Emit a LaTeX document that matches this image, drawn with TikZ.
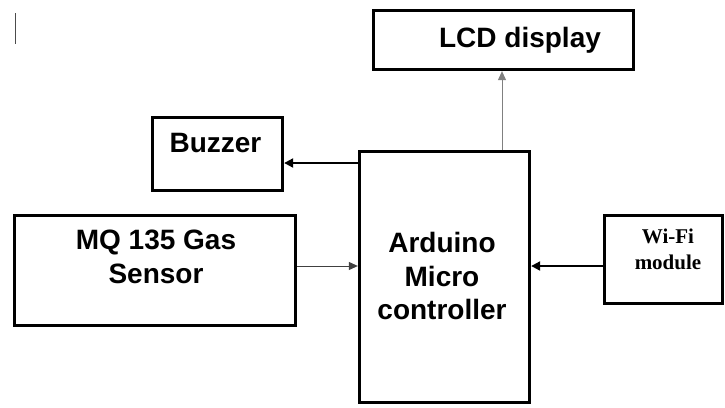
\documentclass[tikz,border=0pt]{standalone}
\usepackage{fontspec}
\setmainfont{Liberation Sans}
\newfontfamily\wifiserif{Liberation Serif}
\usetikzlibrary{positioning,arrows.meta}

\begin{document}
\begin{tikzpicture}[
  x=1pt, y=-1pt,
  %% block outline, text set apart
  blk/.style={draw, line width=3.3pt, minimum width=#1},
  blk/.default=100pt,
  %% block label, bold sans
  lbl/.style={font=\fontsize{28}{33.5}\selectfont\bfseries,
    align=center, inner sep=0pt},
  %% thick black connector
  thk/.style={-{Triangle[length=9pt,width=9pt]}, line width=2pt},
  %% thin grey connector
  thn/.style={-{Triangle[length=9pt,width=8pt]}, line width=1pt},
]
\useasboundingbox (0,0) rectangle (725,407);

%% stray mark top left
\draw[black!70, line width=1pt] (15,13) -- (15,44);

%%── blocks ────────────────────────────────────────────────
\node[blk=260pt, minimum height=59pt] (lcd) at (503.5,40) {};
\node[lbl, anchor=base] (lcdt) at (520,47) {LCD display};

\node[blk=130pt, minimum height=73pt] (buzz) at (217.5,154) {};
\node[lbl, anchor=base] (buzzt) at (215.5,152) {Buzzer};

\node[blk=170pt, minimum height=251pt] (mcu) at (444.5,277) {};
\node[lbl] (mcut) at (442,276) {Arduino\\Micro\\controller};

\node[blk=281pt, minimum height=110pt] (mq) at (155,270.5) {};
\node[lbl] (mqt) at (156,257) {MQ 135 Gas\\Sensor};

\node[blk=118pt, minimum height=88pt] (wifi) at (663.5,259.5) {};
\node[lbl, font=\fontsize{21}{26}\selectfont\wifiserif\bfseries]
  (wifit) at (668,249) {Wi-Fi\\module};

%%── connectors ────────────────────────────────────────────
\coordinate (buzzin) at ([yshift=-9pt]buzz.east);
\coordinate (mqout) at ([yshift=4.5pt]mq.east);
\coordinate (wifiout) at ([yshift=-6.5pt]wifi.west);
\coordinate (lcdin) at ([xshift=-1.5pt]lcd.south);

\draw[thk] (buzzin -| mcu.west) -- (buzzin);
\draw[thn, black!75] (mqout) -- (mqout -| mcu.west);
\draw[thk] (wifiout) -- (wifiout -| mcu.east);
\draw[thn, black!50] (lcdin |- mcu.north) -- (lcdin);

\end{tikzpicture}
\end{document}
